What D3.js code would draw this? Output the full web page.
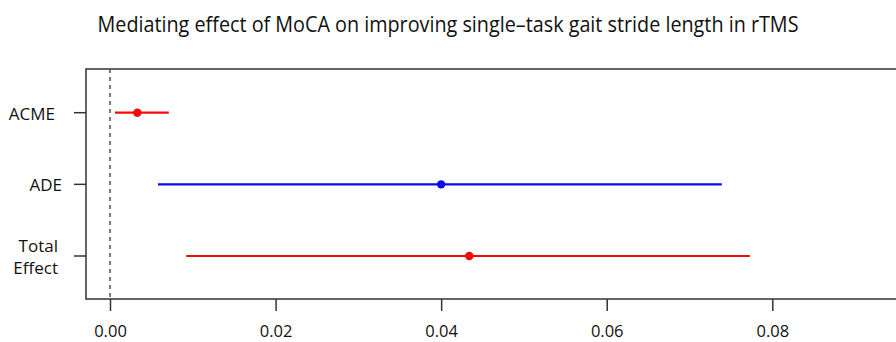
<!DOCTYPE html>
<html>
<head>
<meta charset="utf-8">
<script src="https://cdn.jsdelivr.net/npm/d3@7"></script>
<style>
  html, body { margin: 0; padding: 0; background: #fff; }
  svg { display: block; }
  text { font-family: "Open Sans", "Noto Sans", sans-serif; fill: #111; }
</style>
</head>
<body>
<svg id="chart" width="896" height="342"></svg>
<script>
// Mediation estimates (point and 95% CI)
const effects = ["ACME", "ADE", "Total Effect"];
const estimates = [0.0033, 0.0400, 0.0434];
const lowerCI = [0.0006, 0.0058, 0.0092];
const upperCI = [0.0071, 0.0739, 0.0773];
const effectColors = ["#f50a0a", "#0a0aeb", "#f50a0a"];
const xTicks = [0, 0.02, 0.04, 0.06, 0.08];

const svg = d3.select("#chart");
const box = { left: 86, top: 69, right: 905, bottom: 299 };

const x = d3.scaleLinear().domain([0, 0.08]).range([110, 772.3]);
const y = d3.scalePoint().domain(effects).range([112.7, 256]);

// Title
svg.append("text")
  .attr("x", 448).attr("y", 32)
  .attr("text-anchor", "middle")
  .attr("textLength", 701)
  .attr("lengthAdjust", "spacingAndGlyphs")
  .style("font-size", "21.5px")
  .text("Mediating effect of MoCA on improving single\u2013task gait stride length in rTMS");

// Plot frame
svg.append("rect")
  .attr("x", box.left).attr("y", box.top)
  .attr("width", box.right - box.left).attr("height", box.bottom - box.top)
  .attr("fill", "none").attr("stroke", "#333").attr("stroke-width", 1.5);

// Zero reference line
svg.append("line")
  .attr("x1", x(0)).attr("x2", x(0))
  .attr("y1", box.top).attr("y2", box.bottom)
  .attr("stroke", "#333").attr("stroke-width", 1.3)
  .attr("stroke-dasharray", "4,4");

// X axis
const xAxis = d3.axisBottom(x).tickValues(xTicks).tickFormat(d3.format(".2f"))
  .tickSize(12).tickPadding(14);
const gx = svg.append("g").attr("transform", `translate(0,${box.bottom})`).call(xAxis);
gx.select(".domain").remove();
gx.selectAll(".tick line").attr("stroke", "#333").attr("stroke-width", 1.5);
gx.selectAll(".tick text").style("font-size", "16.5px").attr("fill", "#111")
  .attr("font-family", "\"Open Sans\", sans-serif");

// Y ticks and labels
const gy = svg.append("g");
gy.selectAll("line").data(effects).join("line")
  .attr("x1", box.left - 12).attr("x2", box.left)
  .attr("y1", d => y(d)).attr("y2", d => y(d))
  .attr("stroke", "#333").attr("stroke-width", 1.5);

const labelRight = { "ACME": 55, "ADE": 62, "Total Effect": 58 };
effects.forEach(e => {
  const parts = e.split(" ");
  const t = gy.append("text")
    .attr("text-anchor", "end")
    .style("font-size", "17px");
  parts.forEach((p, i) => {
    t.append("tspan")
      .attr("x", labelRight[e])
      .attr("y", y(e) + 7 + (parts.length === 1 ? 0 : (i - 0.5) * 22.5))
      .text(p);
  });
});

// Confidence intervals
svg.append("g").selectAll("line").data(effects).join("line")
  .attr("x1", (d, i) => x(lowerCI[i]))
  .attr("x2", (d, i) => x(upperCI[i]))
  .attr("y1", d => y(d)).attr("y2", d => y(d))
  .attr("stroke", (d, i) => effectColors[i])
  .attr("stroke-width", 2.2);

// Point estimates
svg.append("g").selectAll("circle").data(effects).join("circle")
  .attr("cx", (d, i) => x(estimates[i]))
  .attr("cy", d => y(d))
  .attr("r", 4.2)
  .attr("fill", (d, i) => effectColors[i]);
</script>
</body>
</html>
